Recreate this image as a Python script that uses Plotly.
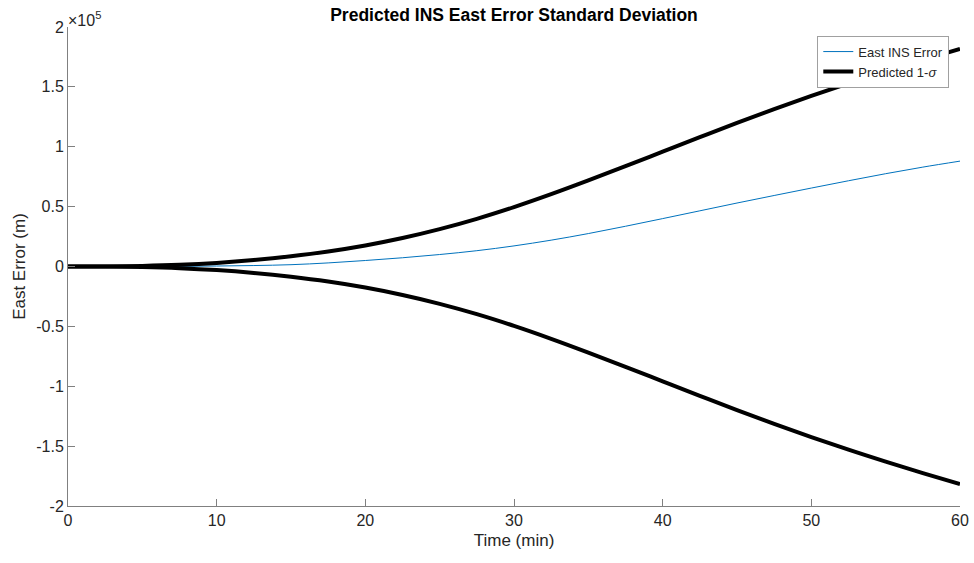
import plotly.graph_objects as go

time_min = [0, 2.5, 5, 7.5, 10, 12.5, 15, 17.5, 20, 22.5, 25, 27.5, 30,
            32.5, 35, 37.5, 40, 42.5, 45, 47.5, 50, 52.5, 55, 57.5, 60]
# values in units of 1e5 m
sigma_1e5 = [0.0, 0.001, 0.005, 0.014, 0.030, 0.054, 0.086, 0.126, 0.176, 0.238, 0.312, 0.398, 0.496,
             0.604, 0.719, 0.838, 0.959, 1.080, 1.199, 1.314, 1.424, 1.530, 1.630, 1.725, 1.817]
east_err_1e5 = [0.0, 0.0, 0.0005, 0.0015, 0.004, 0.008, 0.015, 0.030, 0.050, 0.073, 0.100, 0.132, 0.172,
                0.220, 0.275, 0.336, 0.400, 0.465, 0.530, 0.593, 0.655, 0.716, 0.775, 0.830, 0.880]
ytick_labels = ["-2", "-1.5", "-1", "-0.5", "0", "0.5", "1", "1.5", "2"]
ytick_vals_1e5 = [-2, -1.5, -1, -0.5, 0, 0.5, 1, 1.5, 2]
xtick_vals = [0, 10, 20, 30, 40, 50, 60]

scale = 1e5
sigma = [v * scale for v in sigma_1e5]
neg_sigma = [-v for v in sigma]
east_err = [v * scale for v in east_err_1e5]

FONT = "Liberation Sans, Arial, Helvetica, sans-serif"
TXT = "#262626"
AX = "#808080"

fig = go.Figure()
fig.add_trace(go.Scatter(x=time_min, y=east_err, mode="lines", name="East INS Error",
                         line=dict(color="#0072BD", width=1, shape="spline", smoothing=1)))
fig.add_trace(go.Scatter(x=time_min, y=sigma, mode="lines", name="Predicted 1-<i>σ</i>",
                         line=dict(color="black", width=4, shape="spline", smoothing=1)))
fig.add_trace(go.Scatter(x=time_min, y=neg_sigma, mode="lines", showlegend=False,
                         line=dict(color="black", width=4, shape="spline", smoothing=1)))

fig.update_layout(
    width=974, height=563,
    margin=dict(l=68, r=14, t=27, b=57),
    paper_bgcolor="white", plot_bgcolor="white",
    font=dict(family=FONT, size=14, color=TXT),
    title=dict(text="<b>Predicted INS East Error Standard Deviation</b>",
               x=0.5, xref="paper", xanchor="center", y=0.973, yanchor="middle",
               font=dict(size=17.5, color="black")),
    showlegend=True,
    legend=dict(x=0.988, y=0.982, xanchor="right", yanchor="top",
                bgcolor="white", bordercolor="#a0a0a0", borderwidth=1,
                font=dict(size=13, color=TXT), tracegroupgap=0,
                itemwidth=30),
)
fig.update_xaxes(range=[0, 60], tickvals=xtick_vals, ticks="inside", ticklen=7,
                 tickcolor=AX, showline=True, linecolor=AX, linewidth=1, mirror=False,
                 showgrid=False, zeroline=False, automargin=False,
                 title=dict(text="Time (min)", font=dict(size=17, color=TXT), standoff=5),
                 tickfont=dict(size=16, color=TXT))
fig.update_yaxes(range=[-2 * scale, 2 * scale], tickvals=[v * scale for v in ytick_vals_1e5],
                 ticktext=ytick_labels, ticks="inside", ticklen=7, tickcolor=AX,
                 showline=True, linecolor=AX, linewidth=1, mirror=False,
                 showgrid=False, zeroline=False, automargin=False,
                 title=dict(text="East Error (m)", font=dict(size=17, color=TXT), standoff=6),
                 tickfont=dict(size=16, color=TXT))
fig.add_annotation(text="×10<sup>5</sup>", xref="paper", yref="paper", x=0, y=1,
                   xanchor="left", yanchor="bottom", showarrow=False,
                   font=dict(size=16, color=TXT), xshift=-2, yshift=-4)

fig.write_html("out.html")
